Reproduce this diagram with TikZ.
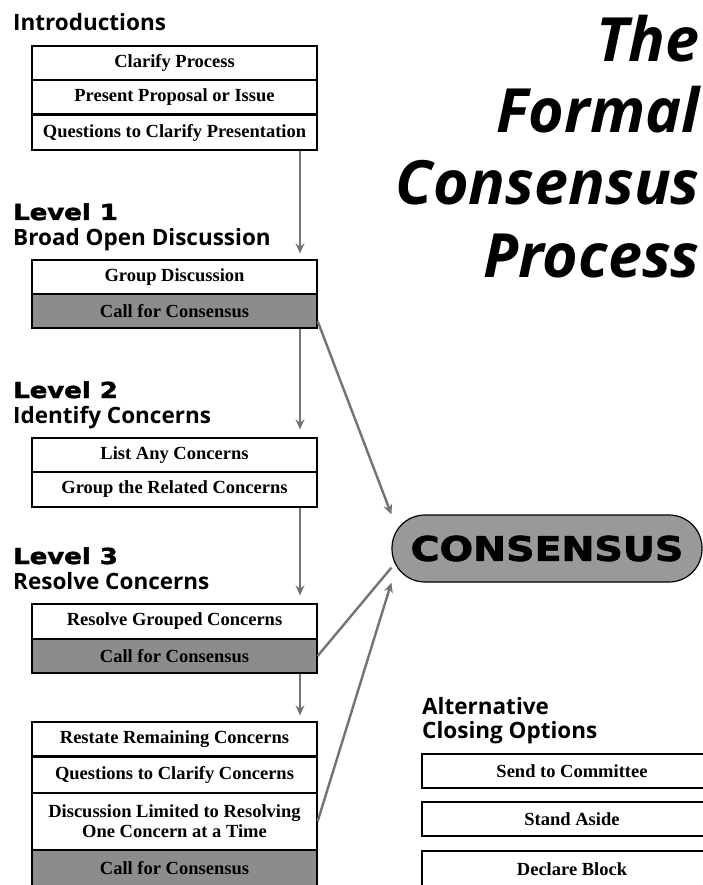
\documentclass[tikz,border=0pt]{standalone}
\usepackage{fontspec}
\setmainfont{Liberation Serif}
\newfontfamily\headfont{Open Sans}
\newfontfamily\heavyfont[FakeBold=2]{DejaVu Sans}
\usetikzlibrary{arrows.meta}

\begin{document}
\begin{tikzpicture}[x=1pt,y=-1pt,
    row/.style={draw,line width=1.2pt,minimum width=285pt,minimum height=34pt,inner sep=0pt,
      font=\bfseries\fontsize{18.5}{20}\selectfont},
    callrow/.style={row,fill=black!45},
    optbox/.style={row,minimum width=300pt},
    head/.style={anchor=base west,inner sep=0pt,font=\headfont\bfseries\fontsize{22.5}{24}\selectfont},
    level/.style={anchor=base west,inner sep=0pt,font=\heavyfont\bfseries\fontsize{22}{24}\selectfont},
    titleline/.style={anchor=base east,inner sep=0pt,font=\headfont\bfseries\itshape\fontsize{61}{72}\selectfont},
    sep/.style={line width=2.6pt},
    flow/.style={draw=black!55,line width=2.4pt,-{Stealth[length=10pt,width=9pt]}},
    link/.style={draw=black!55,line width=2.4pt}]
    \useasboundingbox (0,0) rectangle (703,885);
    \coordinate (spine) at (300,0);

    % title
    \node[titleline] (title1) at (700,62) {The};
    \node[titleline] (title2) at (700,133) {Formal};
    \node[titleline] (title3) at (700,205) {Consensus};
    \node[titleline] (title4) at (700,277) {Process};

    % introductions
    \node[head] (introhead) at (13,31) {Introductions};
    \node[row] (clarify) at (174.5,63) {Clarify Process};
    \node[row] (present) at (174.5,97) {Present Proposal or Issue};
    \node[row,minimum height=35pt] (questions) at (174.5,132.5) {Questions to Clarify Presentation};
    \draw[sep] (present.south west) -- (present.south east);

    % level 1
    \node[level] (lev1) at (13,220) {\scalebox{1.18}[1]{Level 1}};
    \node[head] (lev1sub) at (13,245) {Broad Open Discussion};
    \node[row] (group) at (174.5,277) {Group Discussion};
    \node[callrow] (call1) at (174.5,311) {Call for Consensus};

    % level 2
    \node[level] (lev2) at (13,398) {\scalebox{1.18}[1]{Level 2}};
    \node[head] (lev2sub) at (13,423) {Identify Concerns};
    \node[row] (list) at (174.5,455) {List Any Concerns};
    \node[row,minimum height=35pt] (grouprel) at (174.5,489.5) {Group the Related Concerns};

    % level 3
    \node[level] (lev3) at (13,564) {\scalebox{1.18}[1]{Level 3}};
    \node[head] (lev3sub) at (13,589) {Resolve Concerns};
    \node[row,minimum height=35pt] (resolve) at (174.5,621.5) {Resolve Grouped Concerns};
    \node[callrow] (call3) at (174.5,656) {Call for Consensus};

    \node[row] (restate) at (174.5,739) {Restate Remaining Concerns};
    \node[row,minimum height=37pt] (qclar) at (174.5,774.5) {Questions to Clarify Concerns};
    \node[row,minimum height=57pt,align=center] (discuss) at (174.5,821.5)
      {Discussion Limited to Resolving\\One Concern at a Time};
    \node[callrow,minimum height=36pt] (call4) at (174.5,868) {Call for Consensus};
    \draw[sep] (restate.south west) -- (restate.south east);

    % consensus
    \node[draw,line width=1.2pt,fill=black!40,rounded corners=33pt,minimum width=310pt,minimum height=67pt,
      font=\heavyfont\bfseries\fontsize{34}{36}\selectfont] (cons) at (547,548.5)
      {\scalebox{1.16}[1]{CONSENSUS}};

    % alternatives
    \node[head] (althead) at (422,714) {Alternative};
    \node[head] (altsub) at (422,738) {Closing Options};
    \node[optbox] (committee) at (572,771) {Send to Committee};
    \node[optbox] (aside) at (572,819) {Stand Aside};
    \node[optbox,minimum height=36pt] (block) at (572,869) {Declare Block};

    % arrows
    \draw[flow,shorten >=6pt] (questions.south -| spine) -- (group.north -| spine);
    \draw[flow,shorten >=8pt] (call1.south -| spine) -- (list.north -| spine);
    \draw[flow,shorten >=8pt] (grouprel.south -| spine) -- (resolve.north -| spine);
    \draw[flow,shorten >=6pt] (call3.south -| spine) -- (restate.north -| spine);
    \draw[flow] (call1.-4) -- (cons.north west);
    \draw[link] (call3.east) -- (cons.187);
    \draw[flow] (discuss.east) -- (cons.south west);
  \end{tikzpicture}
\end{document}
